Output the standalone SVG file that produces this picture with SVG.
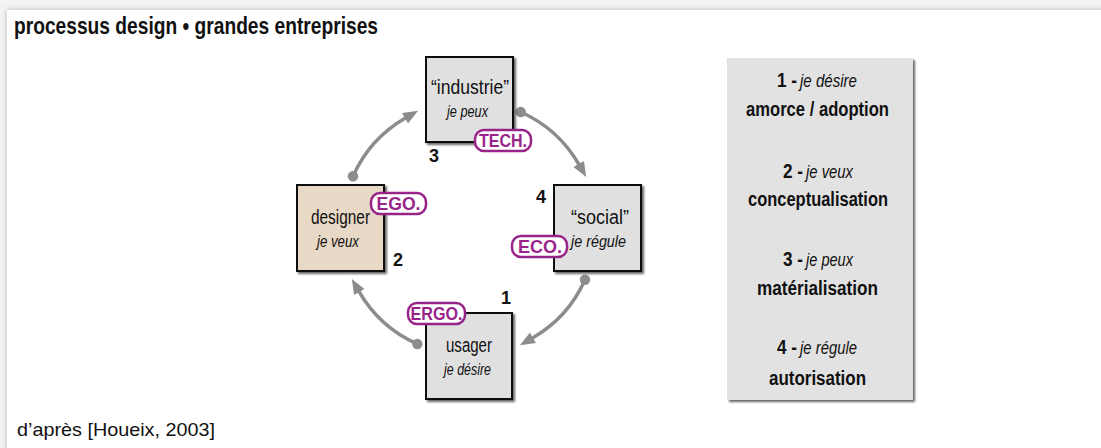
<svg xmlns="http://www.w3.org/2000/svg" width="1101" height="448" viewBox="0 0 1101 448">
<style>
text{font-family:"Liberation Sans Narrow","Liberation Sans",Arial,sans-serif;fill:#111}
.t{font-size:20px}
.i{font-size:16px;font-style:italic}
.n{font-size:18px;font-weight:bold}
.b{font-size:18px;font-weight:bold;fill:#98248a}
.pill{fill:#fff;stroke:#98248a;stroke-width:2.5}
.box{fill:#e0e0e0;stroke:#111;stroke-width:2}
.con{fill:none;stroke:#8c8c8c;stroke-width:3.5;marker-end:url(#ah);marker-start:url(#dot)}
.pb{font-size:20px;font-weight:bold}
.pi{font-size:18px;font-style:italic}
</style>
<defs>
<filter id="sh" x="-10%" y="-10%" width="130%" height="130%">
<feGaussianBlur in="SourceAlpha" stdDeviation="1.2"/>
<feOffset dx="2" dy="2" result="o"/>
<feComponentTransfer><feFuncA type="linear" slope="0.6"/></feComponentTransfer>
<feMerge><feMergeNode/><feMergeNode in="SourceGraphic"/></feMerge>
</filter>
<filter id="fr" x="-5%" y="-5%" width="110%" height="110%">
<feGaussianBlur in="SourceAlpha" stdDeviation="3"/>
<feComponentTransfer><feFuncA type="linear" slope="0.25"/></feComponentTransfer>
<feMerge><feMergeNode/><feMergeNode in="SourceGraphic"/></feMerge>
</filter>
<marker id="ah" markerUnits="userSpaceOnUse" markerWidth="16" markerHeight="14" refX="1" refY="7" orient="auto">
<path d="M0,1 L15,7 L0,13 z" fill="#8c8c8c"/>
</marker>
<marker id="dot" markerUnits="userSpaceOnUse" markerWidth="12" markerHeight="12" refX="6" refY="6">
<circle cx="6" cy="6" r="5.2" fill="#8c8c8c"/>
</marker>
</defs>
<rect x="0" y="0" width="1101" height="448" fill="#f4f4f4"/>
<rect x="7" y="10" width="1120" height="460" fill="#fff" filter="url(#fr)"/>
<text x="14" y="34" font-size="24" font-weight="bold" textLength="364" lengthAdjust="spacingAndGlyphs">processus design • grandes entreprises</text>

<g id="connectors">
<path class="con" d="M353,176.3 A127,127 0 0 1 405.9,117.8"/>
<path class="con" d="M520.7,112 A127,127 0 0 1 579.2,164.9"/>
<path class="con" d="M585,279.7 A127,127 0 0 1 532.1,338.2"/>
<path class="con" d="M417.3,344 A127,127 0 0 1 358.8,291.1"/>
</g>

<g id="industrie">
<rect class="box" x="426" y="57" width="87" height="85" filter="url(#sh)"/>
<text class="t" x="470" y="94" text-anchor="middle" textLength="78" lengthAdjust="spacingAndGlyphs">“industrie”</text>
<text class="i" x="467.5" y="117" text-anchor="middle" textLength="41" lengthAdjust="spacingAndGlyphs">je peux</text>
<text class="n" x="429" y="162">3</text>
<rect class="pill" x="475" y="130" width="56" height="21" rx="9"/>
<text class="b" x="503" y="147" text-anchor="middle" textLength="48" lengthAdjust="spacingAndGlyphs">TECH.</text>
</g>

<g id="designer">
<rect x="297" y="185" width="87" height="86" fill="#e8d8c6" stroke="#111" stroke-width="2" filter="url(#sh)"/>
<text class="t" x="340.5" y="224" text-anchor="middle" textLength="59" lengthAdjust="spacingAndGlyphs">designer</text>
<text class="i" x="338" y="247" text-anchor="middle" textLength="42" lengthAdjust="spacingAndGlyphs">je veux</text>
<text class="n" x="393" y="266">2</text>
<rect class="pill" x="371" y="193" width="55" height="21" rx="9"/>
<text class="b" x="398.5" y="210" text-anchor="middle" textLength="44" lengthAdjust="spacingAndGlyphs">EGO.</text>
</g>

<g id="social">
<rect class="box" x="554" y="185" width="87" height="86" filter="url(#sh)"/>
<text class="t" x="600" y="224" text-anchor="middle" textLength="58" lengthAdjust="spacingAndGlyphs">“social”</text>
<text class="i" x="598.5" y="247" text-anchor="middle" textLength="55" lengthAdjust="spacingAndGlyphs">je régule</text>
<text class="n" x="536" y="203">4</text>
<rect class="pill" x="512" y="236" width="55" height="21" rx="9"/>
<text class="b" x="540" y="253" text-anchor="middle" textLength="44" lengthAdjust="spacingAndGlyphs">ECO.</text>
</g>

<g id="usager">
<rect class="box" x="426" y="313" width="86" height="86" filter="url(#sh)"/>
<text class="t" x="469" y="352" text-anchor="middle" textLength="46" lengthAdjust="spacingAndGlyphs">usager</text>
<text class="i" x="467.5" y="375" text-anchor="middle" textLength="47" lengthAdjust="spacingAndGlyphs">je désire</text>
<text class="n" x="501" y="304">1</text>
<rect class="pill" x="408" y="303" width="57" height="21" rx="9"/>
<text class="b" x="436.5" y="320" text-anchor="middle" textLength="52" lengthAdjust="spacingAndGlyphs">ERGO.</text>
</g>

<g id="legend">
<rect x="727" y="58" width="186" height="342" fill="#e2e2e2" filter="url(#sh)"/>
<text class="pb" x="777" y="87" textLength="20" lengthAdjust="spacingAndGlyphs">1 -</text>
<text class="pi" x="800" y="87" textLength="57" lengthAdjust="spacingAndGlyphs">je désire</text>
<text class="pb" x="817.5" y="116" text-anchor="middle" textLength="143" lengthAdjust="spacingAndGlyphs">amorce / adoption</text>
<text class="pb" x="783" y="178" textLength="20" lengthAdjust="spacingAndGlyphs">2 -</text>
<text class="pi" x="806" y="178" textLength="47" lengthAdjust="spacingAndGlyphs">je veux</text>
<text class="pb" x="818" y="206" text-anchor="middle" textLength="140" lengthAdjust="spacingAndGlyphs">conceptualisation</text>
<text class="pb" x="783" y="266" textLength="20" lengthAdjust="spacingAndGlyphs">3 -</text>
<text class="pi" x="806" y="266" textLength="47" lengthAdjust="spacingAndGlyphs">je peux</text>
<text class="pb" x="817.5" y="295" text-anchor="middle" textLength="121" lengthAdjust="spacingAndGlyphs">matérialisation</text>
<text class="pb" x="777" y="354" textLength="20" lengthAdjust="spacingAndGlyphs">4 -</text>
<text class="pi" x="800" y="354" textLength="57" lengthAdjust="spacingAndGlyphs">je régule</text>
<text class="pb" x="817.5" y="385" text-anchor="middle" textLength="97" lengthAdjust="spacingAndGlyphs">autorisation</text>
</g>

<text x="17" y="436" font-size="19" textLength="198" lengthAdjust="spacingAndGlyphs">d’après [Houeix, 2003]</text>
</svg>
